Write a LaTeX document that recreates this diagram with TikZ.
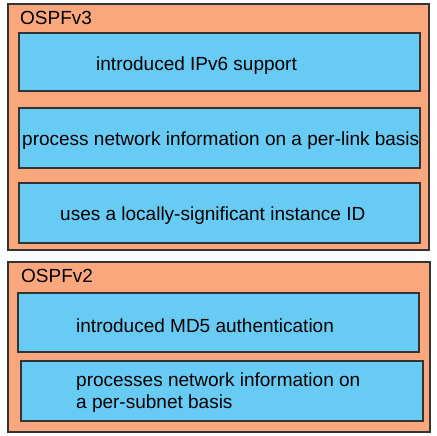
\documentclass[tikz,border=0pt]{standalone}
\usepackage{fontspec}
\setmainfont{Liberation Sans}
\usetikzlibrary{positioning}
\definecolor{ospfOrange}{HTML}{FAA77E}
\definecolor{ospfBlue}{HTML}{68CBF4}
\definecolor{ospfDark}{HTML}{333333}

\begin{document}
\begin{tikzpicture}[x=1pt, y=-1pt,
    grp/.style={draw=ospfDark, line width=1.6pt, fill=ospfOrange, anchor=north west,
      inner sep=0pt, outer sep=0pt},
    feat/.style={draw=ospfDark, line width=1.6pt, fill=ospfBlue, anchor=north west,
      inner sep=0pt, outer sep=0pt},
    txt/.style={anchor=west, inner sep=0pt, align=left,
      font=\fontsize{19}{22}\selectfont}]
  \useasboundingbox (0,0) rectangle (436,436);
  % OSPFv3
  \node[grp, minimum width=421pt, minimum height=246pt] (v3) at (8,4) {};
  \node[txt] (v3t) at (20,18) {OSPFv3};
  \node[feat, minimum width=401pt, minimum height=58pt] (ipv6) at (19,33) {};
  \node[feat, minimum width=401pt, minimum height=60pt] (link) at (19,108) {};
  \node[feat, minimum width=401pt, minimum height=60pt] (inst) at (19,183) {};
  \node[txt] (ipv6t) at ([xshift=77pt,yshift=-3.5pt]ipv6.west) {introduced IPv6 support};
  \node[txt] (linkt) at ([xshift=3pt,yshift=-3pt]link.west) {process network information on a per-link basis};
  \node[txt] (instt) at ([xshift=41pt,yshift=-3pt]inst.west) {uses a locally-significant instance ID};
  % OSPFv2
  \node[grp, minimum width=422pt, minimum height=170pt] (v2) at (8,262) {};
  \node[txt] (v2t) at (21,276) {OSPFv2};
  \node[feat, minimum width=401pt, minimum height=59pt] (md5) at (18,293) {};
  \node[feat, minimum width=402pt, minimum height=60pt] (subnet) at (21,361) {};
  \node[txt] (md5t) at ([xshift=58pt,yshift=-3pt]md5.west) {introduced MD5 authentication};
  \node[txt] (subnett) at ([xshift=55pt,yshift=-2pt]subnet.west) {processes network information on\\a per-subnet basis};
\end{tikzpicture}
\end{document}
